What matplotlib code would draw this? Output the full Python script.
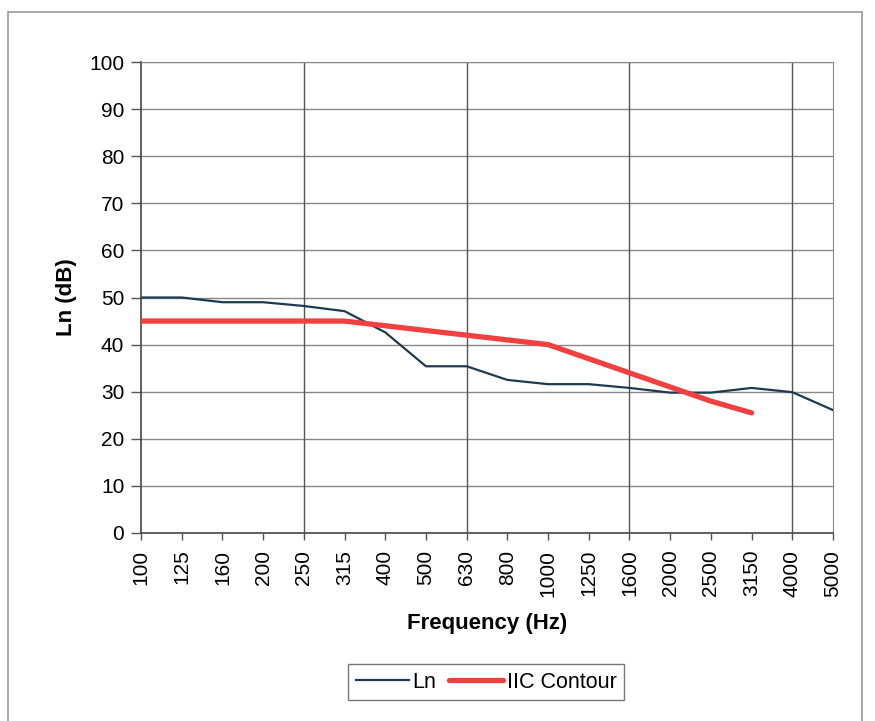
import matplotlib
matplotlib.use('Agg')
import matplotlib.pyplot as plt
from matplotlib.patches import Rectangle

plt.rcParams['font.family'] = ['Liberation Sans', 'DejaVu Sans']

# third-octave band centre frequencies
freqs = ['100', '125', '160', '200', '250', '315', '400', '500', '630', '800',
         '1000', '1250', '1600', '2000', '2500', '3150', '4000', '5000']
# measured normalised impact level
ln_vals = [50, 50, 49, 49, 48.2, 47.1, 42.6, 35.4, 35.4, 32.5,
           31.6, 31.6, 30.8, 29.8, 29.8, 30.8, 29.9, 26.1]
# IIC reference contour (100 .. 3150 Hz)
iic_vals = [45, 45, 45, 45, 45, 45, 44, 43, 42, 41, 40, 37, 34, 31, 28, 25.5]

fig = plt.figure(figsize=(8.75, 7.21), dpi=100)
ax = fig.add_axes([141/875, 1 - 533/721, (833 - 141)/875, (533 - 62)/721])

x = list(range(len(freqs)))
ax.plot(x, ln_vals, color='#1d3b52', lw=1.6, label='Ln', zorder=3)
ax.plot(x[:len(iic_vals)], iic_vals, color='#f04040', lw=3.8, label='IIC Contour',
        solid_capstyle='round', zorder=4)

ax.set_xlim(0, len(freqs) - 1)
ax.set_ylim(0, 100)
ax.set_yticks(range(0, 101, 10))
ax.set_xticks(x)
ax.set_xticklabels(freqs, rotation=90)
ax.tick_params(axis='both', labelsize=15, width=1, color='#555555')
ax.tick_params(axis='y', length=7, pad=5)
ax.tick_params(axis='x', length=5, pad=7)

# grid: horizontal every 10 dB, vertical every 4 bands
for yv in range(10, 101, 10):
    ax.axhline(yv, color='#888888', lw=1, zorder=1)
for xv in [4, 8, 12, 16]:
    ax.axvline(xv, color='#555555', lw=1, zorder=1)

for side in ['top', 'right']:
    ax.spines[side].set_color('#888888')
for side in ['left', 'bottom']:
    ax.spines[side].set_color('#444444')
    ax.spines[side].set_linewidth(1.2)

ax.set_xlabel('Frequency (Hz)', fontsize=16, fontweight='bold', labelpad=12)
ax.set_ylabel('Ln (dB)', fontsize=16, fontweight='bold', labelpad=9)

leg = fig.legend(loc='center', bbox_to_anchor=(486/875, 1 - 682/721), ncol=2,
                 fontsize=15.5, frameon=True, fancybox=False, handlelength=2.5,
                 columnspacing=0.6, handletextpad=0.15, borderpad=0.35,
                 borderaxespad=0)
leg.get_frame().set_edgecolor('#555555')
leg.get_frame().set_linewidth(1)

# outer chart border
fig.patches.append(Rectangle((8/875, -0.05), (862 - 8)/875, 1 - 12/721 + 0.05,
                             transform=fig.transFigure, fill=False,
                             edgecolor='#999999', lw=1.2))

fig.savefig('out.png', dpi=100)
